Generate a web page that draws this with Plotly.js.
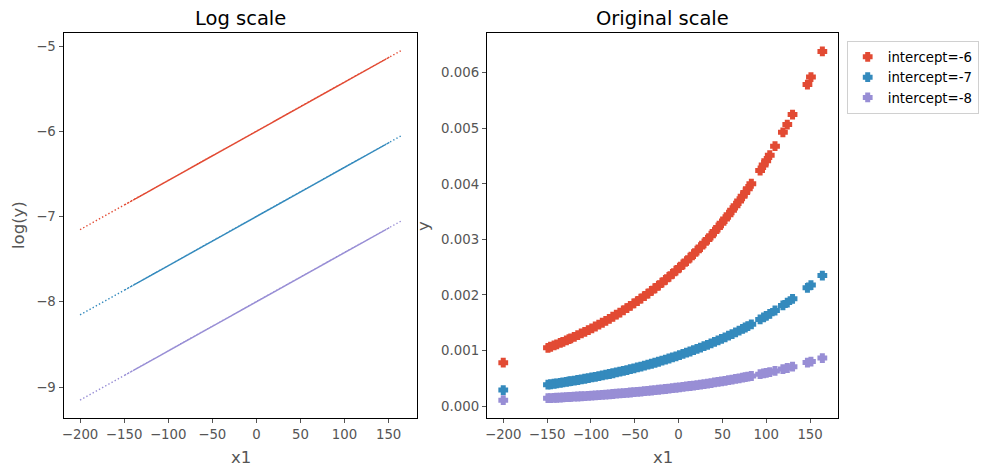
<!DOCTYPE html>
<html>
<head>
<meta charset="utf-8">
<script src="https://cdn.plot.ly/plotly-3.0.1.min.js"></script>
<style>html,body{margin:0;padding:0;background:#fff;}#chart{width:993px;height:475px;}</style>
</head>
<body>
<div id="chart"></div>
<script>
// x1 values in sample order
const x1 = [-200, 13, -87, 104, -139, 45, -23, 151, -63, 1, 83, -111, 29, -43, 130, -7, -125, 61, -99, 37, -149, 93, -31, 17, -75, 119, -55, 69, -132, 5, -103, 49, -15, -67, -119, 25, -39, 79, -146, 100, -91, 53, -27, 9, -128, 65, -47, 110, -83, 33, -3, -142, 73, -59, 21, -107, 147, -11, -79, 41, -123, 57, -19, 97, -51, -135, 124, -95, 76, -35, -115, -71, 164];

// log(y) values, one per x1 value
const logY_m6 = [-7.154, -5.925, -6.502, -5.400, -6.802, -5.740, -6.133, -5.129, -6.364, -5.994, -5.521, -6.640, -5.833, -6.248, -5.250, -6.040, -6.721, -5.648, -6.571, -5.787, -6.860, -5.463, -6.179, -5.902, -6.433, -5.313, -6.317, -5.602, -6.762, -5.971, -6.594, -5.717, -6.087, -6.387, -6.687, -5.856, -6.225, -5.544, -6.842, -5.423, -6.525, -5.694, -6.156, -5.948, -6.739, -5.625, -6.271, -5.365, -6.479, -5.810, -6.017, -6.819, -5.579, -6.340, -5.879, -6.617, -5.152, -6.063, -6.456, -5.763, -6.710, -5.671, -6.110, -5.440, -6.294, -6.779, -5.285, -6.548, -5.561, -6.202, -6.664, -6.410, -5.054];
const logY_m7 = [-8.154, -6.925, -7.502, -6.400, -7.802, -6.740, -7.133, -6.129, -7.364, -6.994, -6.521, -7.640, -6.833, -7.248, -6.250, -7.040, -7.721, -6.648, -7.571, -6.787, -7.860, -6.463, -7.179, -6.902, -7.433, -6.313, -7.317, -6.602, -7.762, -6.971, -7.594, -6.717, -7.087, -7.387, -7.687, -6.856, -7.225, -6.544, -7.842, -6.423, -7.525, -6.694, -7.156, -6.948, -7.739, -6.625, -7.271, -6.365, -7.479, -6.810, -7.017, -7.819, -6.579, -7.340, -6.879, -7.617, -6.152, -7.063, -7.456, -6.763, -7.710, -6.671, -7.110, -6.440, -7.294, -7.779, -6.285, -7.548, -6.561, -7.202, -7.664, -7.410, -6.054];
const logY_m8 = [-9.154, -7.925, -8.502, -7.400, -8.802, -7.740, -8.133, -7.129, -8.364, -7.994, -7.521, -8.640, -7.833, -8.248, -7.250, -8.040, -8.721, -7.648, -8.571, -7.787, -8.860, -7.463, -8.179, -7.902, -8.433, -7.313, -8.317, -7.602, -8.762, -7.971, -8.594, -7.717, -8.087, -8.387, -8.687, -7.856, -8.225, -7.544, -8.842, -7.423, -8.525, -7.694, -8.156, -7.948, -8.739, -7.625, -8.271, -7.365, -8.479, -7.810, -8.017, -8.819, -7.579, -8.340, -7.879, -8.617, -7.152, -8.063, -8.456, -7.763, -8.710, -7.671, -8.110, -7.440, -8.294, -8.779, -7.285, -8.548, -7.561, -8.202, -8.664, -8.410, -7.054];

const seriesNames = ["intercept=-6", "intercept=-7", "intercept=-8"];
const seriesLog = [logY_m6, logY_m7, logY_m8];
const colors = ["#E24A33", "#348ABD", "#988ED5"];

const W = 993, H = 475;
const px = v => v / W;
const py = v => 1 - v / H;

const traces = [];
seriesLog.forEach((ly, i) => {
  traces.push({
    x: x1, y: ly, xaxis: 'x', yaxis: 'y', type: 'scatter', mode: 'lines',
    line: {color: colors[i], width: 1.4, dash: '1.4px,2.2px', simplify: false},
    showlegend: false, hoverinfo: 'skip'
  });
});
seriesLog.forEach((ly, i) => {
  traces.push({
    x: x1, y: ly.map(v => Math.exp(v)), xaxis: 'x2', yaxis: 'y2', type: 'scatter', mode: 'markers',
    name: seriesNames[i],
    marker: {symbol: 'cross', size: 6, color: colors[i], line: {width: 2.6, color: colors[i]}}
  });
});

const tickFont = {family: 'DejaVu Sans', size: 13.3, color: '#555555'};
const axisCommon = {
  showgrid: false, zeroline: false, showline: true, mirror: true,
  linecolor: '#000000', linewidth: 1, ticks: 'outside', ticklen: 4.5, tickwidth: 1,
  tickcolor: '#555555', tickfont: tickFont, automargin: false
};

const layout = {
  width: W, height: H,
  margin: {l: 0, r: 0, t: 0, b: 0},
  paper_bgcolor: '#ffffff', plot_bgcolor: '#ffffff',
  font: {family: 'DejaVu Sans'},
  xaxis: Object.assign({}, axisCommon, {domain: [px(64), px(417)], range: [-218.2, 182.2], tickvals: [-200, -150, -100, -50, 0, 50, 100, 150], anchor: 'y'}),
  yaxis: Object.assign({}, axisCommon, {domain: [py(417.7), py(33.3)], range: [-9.36, -4.85], tickvals: [-9, -8, -7, -6, -5], anchor: 'x'}),
  xaxis2: Object.assign({}, axisCommon, {domain: [px(487.3), px(838.3)], range: [-218.2, 182.2], tickvals: [-200, -150, -100, -50, 0, 50, 100, 150], anchor: 'y2'}),
  yaxis2: Object.assign({}, axisCommon, {domain: [py(417.7), py(33.3)], range: [-0.000209, 0.00671], tickvals: [0, 0.001, 0.002, 0.003, 0.004, 0.005, 0.006], tickformat: '.3f', anchor: 'x2'}),
  legend: {
    x: px(846.7), y: py(40.7), xanchor: 'left', yanchor: 'top',
    bgcolor: '#ffffff', bordercolor: '#d0d0d0', borderwidth: 1,
    font: {family: 'DejaVu Sans', size: 13.3, color: '#000000'}
  },
  annotations: [
    {text: 'Log scale', x: px(240.5), y: py(18), xref: 'paper', yref: 'paper', xanchor: 'center', yanchor: 'middle', showarrow: false, font: {family: 'DejaVu Sans', size: 19.5, color: '#000000'}},
    {text: 'Original scale', x: px(662.8), y: py(18), xref: 'paper', yref: 'paper', xanchor: 'center', yanchor: 'middle', showarrow: false, font: {family: 'DejaVu Sans', size: 19.5, color: '#000000'}},
    {text: 'x1', x: px(240.5), y: py(457), xref: 'paper', yref: 'paper', xanchor: 'center', yanchor: 'middle', showarrow: false, font: {family: 'DejaVu Sans', size: 16.5, color: '#555555'}},
    {text: 'x1', x: px(662.8), y: py(457), xref: 'paper', yref: 'paper', xanchor: 'center', yanchor: 'middle', showarrow: false, font: {family: 'DejaVu Sans', size: 16.5, color: '#555555'}},
    {text: 'log(y)', x: px(19), y: py(225), xref: 'paper', yref: 'paper', xanchor: 'center', yanchor: 'middle', textangle: -90, showarrow: false, font: {family: 'DejaVu Sans', size: 16.5, color: '#555555'}},
    {text: 'y', x: px(423), y: py(226), xref: 'paper', yref: 'paper', xanchor: 'center', yanchor: 'middle', textangle: -90, showarrow: false, font: {family: 'DejaVu Sans', size: 16.5, color: '#555555'}}
  ]
};

Plotly.newPlot('chart', traces, layout, {displayModeBar: false, staticPlot: true});
</script>
</body>
</html>
